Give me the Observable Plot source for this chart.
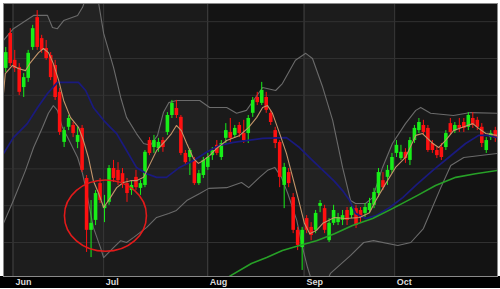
<!DOCTYPE html>
<html><head><meta charset="utf-8">
<script src="https://cdn.jsdelivr.net/npm/d3@7"></script>
<script src="https://cdn.jsdelivr.net/npm/@observablehq/plot@0.6"></script>
<style>html,body{margin:0;padding:0;background:#fff;}</style>
</head><body><div id="chart"></div>
<script>
// Daily OHLC (one value per trading day, index 0..109)
const open  = [24.73,25.68,24.95,24.75,24.21,24.46,25.30,26.11,25.54,25.27,25.08,24.81,24.08,22.72,23.13,23.18,22.72,23.10,21.74,20.33,20.60,21.60,20.92,21.09,22.01,21.96,21.87,21.60,21.41,21.77,21.47,21.55,22.77,22.58,22.55,22.77,22.99,23.45,23.64,23.40,22.42,22.31,22.23,21.60,21.82,22.04,22.36,22.64,22.31,22.83,22.99,22.91,23.18,22.96,22.96,23.51,23.94,23.78,23.94,23.51,23.04,22.72,21.55,21.90,21.22,20.33,19.86,20.65,20.41,20.33,20.98,20.92,20.05,20.52,20.54,20.60,20.87,20.73,20.92,20.87,20.79,20.87,21.01,21.33,21.68,21.77,21.96,22.42,22.28,22.45,22.23,22.77,23.04,23.18,23.10,22.69,22.50,22.58,22.58,23.23,23.04,23.18,23.26,23.13,23.37,23.32,23.13,22.50,22.85,23.04];
const high  = [25.30,25.81,25.22,24.86,24.59,25.22,25.90,26.30,25.63,25.49,25.16,24.95,24.19,23.13,23.45,23.26,23.13,23.18,21.82,21.14,21.41,21.74,21.28,22.09,22.23,22.17,22.01,21.74,21.68,21.96,21.68,22.50,22.85,22.91,22.83,22.85,23.53,23.86,23.86,23.45,22.50,22.55,22.31,21.96,22.31,22.42,22.58,22.77,22.77,23.23,23.37,23.18,23.26,23.32,23.45,23.94,24.08,24.35,24.08,23.59,23.13,22.77,22.15,22.01,21.33,20.41,20.41,20.73,20.54,20.87,21.14,21.01,20.65,21.01,20.79,20.87,20.95,21.06,21.01,20.95,21.06,21.20,21.47,22.01,21.90,22.09,22.42,22.77,22.64,22.55,22.85,23.18,23.37,23.32,23.18,22.77,22.58,22.69,23.04,23.37,23.26,23.37,23.37,23.53,23.53,23.40,23.23,22.85,23.04,23.13];
const low   = [24.62,24.78,24.62,23.99,23.94,24.35,25.22,25.22,25.14,24.95,24.40,23.86,22.91,22.58,23.04,22.85,22.55,21.90,19.73,19.59,20.46,21.06,20.54,21.01,21.63,21.55,21.47,21.09,21.28,21.41,21.28,21.49,22.36,22.42,22.45,22.45,22.91,23.37,23.37,22.36,22.09,21.82,21.55,21.55,21.74,21.96,22.23,22.36,22.23,22.69,22.72,22.83,22.85,22.69,22.69,23.40,23.72,23.72,23.51,23.18,22.55,21.49,20.92,21.49,20.24,19.78,19.24,20.24,20.05,20.24,20.81,20.24,20.00,20.46,20.46,20.46,20.46,20.65,20.38,20.54,20.68,20.79,20.92,21.22,21.41,21.55,21.87,22.31,22.23,22.15,22.09,22.69,22.96,22.91,22.45,22.42,22.28,22.23,22.50,22.91,22.96,22.99,22.99,23.04,23.10,23.04,22.58,22.42,22.77,22.72];
const close = [25.16,24.86,24.73,24.08,24.48,25.14,25.81,25.30,25.22,25.00,24.48,23.94,22.99,23.04,23.37,22.96,22.91,21.96,20.33,20.52,21.33,21.14,21.01,22.01,21.74,21.68,21.63,21.33,21.55,21.49,21.60,22.45,22.42,22.77,22.72,22.58,23.45,23.78,23.45,22.42,22.17,22.50,21.60,21.87,22.23,22.31,22.50,22.42,22.69,23.04,22.83,23.10,22.96,22.77,23.37,23.86,23.80,24.13,23.59,23.26,22.69,21.77,22.04,21.60,20.33,19.92,20.33,20.33,20.19,20.79,21.06,20.33,20.52,20.87,20.68,20.73,20.60,20.95,20.46,20.68,20.95,21.06,21.36,21.90,21.49,21.96,22.31,22.64,22.45,22.28,22.77,23.10,23.26,22.99,22.50,22.50,22.36,22.31,22.96,22.99,23.18,23.10,23.10,23.45,23.18,23.13,22.69,22.77,22.96,22.83];

// Month axis
const monthLabels = ["Jun","Jul","Aug","Sep","Oct"];
const monthStarts = [1.7, 21.8, 45.0, 66.5, 86.6];
const shadeEdges  = [-0.5, 1.7, 21.8, 45.0, 66.5, 86.6, 109.5];
const shadeColors = ["#161616","#1d1d1d","#1b1b1b","#141414","#1c1c1c","#131313"];
const gridPrices  = [20,21,22,23,24,25,26];

// Indicator lines: [day index, price]
const upperBand = [[-0.5,25.49],[1.7,25.81],[6.2,26.17],[9.3,26.17],[10.4,25.84],[11.5,25.81],[12.9,26.03],[16.0,26.17],[17.1,26.39],[18.9,26.98],[20.4,26.71],[21.8,25.68],[24.0,24.76],[25.6,23.94],[26.9,23.40],[29.1,22.96],[30.7,22.69],[32.2,22.64],[33.8,22.91],[35.1,23.53],[36.3,23.80],[38.0,23.86],[43.2,23.86],[45.4,23.67],[49.2,23.67],[51.4,23.51],[53.6,23.59],[57.2,24.21],[60.1,24.13],[61.6,24.32],[64.5,24.95],[66.8,25.14],[68.3,25.00],[70.6,24.21],[72.8,23.32],[75.0,22.04],[76.8,21.14],[77.9,21.06],[80.1,21.06],[81.7,21.22],[83.9,22.04],[86.1,22.69],[89.0,23.23],[91.3,23.59],[92.4,23.67],[94.6,23.51],[99.7,23.45],[103.5,23.53],[109.5,23.51]];
const lowerBand = [[-0.5,20.52],[1.7,21.14],[4.4,21.96],[6.2,22.58],[8.2,23.13],[9.5,23.51],[10.6,23.72],[11.5,23.59],[12.6,23.13],[13.8,22.85],[16.0,22.31],[17.1,21.87],[17.8,21.49],[19.5,20.41],[21.1,19.86],[21.8,19.59],[24.0,19.86],[25.6,20.05],[26.9,20.00],[28.5,20.14],[31.4,20.41],[33.6,20.68],[36.3,20.79],[38.0,20.87],[40.3,21.14],[43.2,21.33],[45.2,21.47],[49.2,21.49],[52.5,21.63],[54.1,21.49],[56.5,21.77],[58.3,21.96],[59.9,22.04],[61.4,21.77],[62.8,21.33],[64.8,20.60],[66.1,19.86],[67.2,19.32],[68.1,18.97],[70.1,18.56],[72.3,19.16],[76.8,19.65],[79.7,20.00],[81.9,20.05],[87.3,19.92],[90.2,20.00],[93.0,20.38],[96.8,21.47],[99.1,22.09],[102.0,22.31],[109.5,22.42]];
const blueAvg = [[-0.5,22.42],[1.7,22.85],[4.8,23.23],[7.1,23.67],[9.3,24.05],[11.5,24.35],[16.2,24.35],[17.8,24.13],[19.5,23.67],[21.8,23.32],[23.3,23.13],[24.7,22.96],[26.9,22.50],[29.1,22.04],[31.4,21.87],[33.6,21.77],[35.8,21.77],[38.7,22.04],[41.8,22.23],[44.7,22.45],[47.6,22.64],[50.7,22.72],[53.6,22.77],[57.2,22.83],[62.5,22.85],[65.4,22.58],[68.3,22.23],[71.4,21.87],[73.2,21.66],[75.0,21.41],[76.6,21.14],[77.9,20.79],[80.1,20.65],[82.4,20.73],[85.5,20.95],[88.4,21.22],[91.3,21.55],[95.1,21.96],[98.6,22.31],[102.4,22.69],[105.3,22.91],[107.3,22.91],[109.5,22.85]];
const tanAvg = [[-0.5,24.05],[-0.1,24.59],[1.5,24.81],[2.8,24.73],[4.4,24.67],[5.5,24.89],[7.3,25.16],[8.4,25.27],[9.5,25.16],[10.6,24.86],[11.8,24.40],[12.9,23.86],[14.4,23.40],[16.2,23.13],[17.3,22.77],[18.4,22.31],[19.5,21.68],[20.7,21.33],[21.8,20.95],[23.3,21.22],[24.7,21.49],[26.2,21.63],[27.8,21.68],[29.1,21.68],[30.7,21.77],[32.2,22.15],[33.6,22.50],[35.6,22.77],[36.9,22.96],[38.0,23.18],[39.1,23.04],[40.3,22.69],[41.8,22.28],[42.9,22.15],[44.0,22.23],[45.4,22.36],[46.9,22.55],[49.2,22.77],[52.1,22.91],[54.1,23.13],[55.9,23.40],[57.2,23.67],[58.3,23.72],[59.4,23.51],[61.0,22.96],[62.5,22.42],[63.9,21.77],[65.4,21.06],[66.5,20.52],[67.7,20.24],[69.2,20.33],[70.6,20.52],[73.2,20.68],[75.7,20.65],[78.8,20.68],[81.0,20.81],[82.4,21.14],[84.6,21.60],[86.8,22.04],[89.0,22.31],[91.3,22.91],[92.8,22.96],[95.1,22.69],[96.4,22.58],[97.9,22.77],[99.7,23.04],[101.7,23.13],[104.0,23.23],[105.3,23.10],[106.9,22.96],[109.5,22.91]];
const greenAvg = [[49.8,19.08],[54.7,19.43],[58.1,19.59],[61.6,19.78],[65.4,19.92],[69.2,20.05],[73.2,20.24],[77.2,20.46],[81.7,20.65],[86.1,20.92],[91.7,21.28],[95.7,21.55],[100.2,21.77],[104.6,21.87],[109.5,21.96]];

// Hand-drawn annotation circle (centre in day index / price)
const circleCenter = [{i:22.2, p:20.73}];

const candles = open.map((o,i)=>({i, o, h:high[i], l:low[i], c:close[i], up: close[i] >= o}));
const shades = shadeColors.map((f,k)=>({x1:shadeEdges[k], x2:shadeEdges[k+1], y1:19.076, y2:26.494, f}));
const bandPoly = upperBand.concat(lowerBand.slice().reverse());
const UP = "#18ee18", DOWN = "#ff1010";

const chart = Plot.plot({
  width: 500, height: 289,
  marginTop: 3, marginLeft: 3, marginRight: 3, marginBottom: 13,
  x: {domain: [-0.5, 109.5]},
  y: {domain: [19.076, 26.494], axis: null},
  color: {type: "identity"},
  style: {background: "#fff", fontFamily: "Liberation Sans, Arial, sans-serif"},
  marks: [
    Plot.rect(shades, {x1: "x1", x2: "x2", y1: "y1", y2: "y2", fill: "f"}),
    Plot.line(bandPoly, {x: d=>d[0], y: d=>d[1], fill: "rgba(255,255,255,0.028)", stroke: "none", clip: true}),
    Plot.ruleY(gridPrices, {stroke: "#323232", strokeWidth: 1}),
    Plot.ruleX(monthStarts, {stroke: "#343434", strokeWidth: 1}),
    Plot.line(upperBand, {x: d=>d[0], y: d=>d[1], stroke: "#6b6b6b", strokeWidth: 1.1, clip: true}),
    Plot.line(lowerBand, {x: d=>d[0], y: d=>d[1], stroke: "#6b6b6b", strokeWidth: 1.1, clip: true}),
    Plot.ruleX(candles, {x: "i", y1: "l", y2: "h", stroke: d=>d.up?UP:DOWN, strokeWidth: 1}),
    Plot.ruleX(candles, {x: "i", y1: "o", y2: "c", stroke: d=>d.up?UP:DOWN, strokeWidth: 3.6}),
    Plot.line(blueAvg, {x: d=>d[0], y: d=>d[1], stroke: "#1a1a7e", strokeWidth: 1.7, clip: true}),
    Plot.line(greenAvg, {x: d=>d[0], y: d=>d[1], stroke: "#27a027", strokeWidth: 1.6, clip: true}),
    Plot.line(tanAvg, {x: d=>d[0], y: d=>d[1], stroke: "#c4956a", strokeWidth: 1.1, clip: true}),
    Plot.dot(circleCenter, {x: "i", y: "p", r: 41, stroke: "#e21a1a", strokeWidth: 1.6, fill: "none"}),
    Plot.frame({stroke: "#8a8a8a", strokeWidth: 1}),
    Plot.axisX(monthStarts, {tickSize: 0, tickPadding: 2, textAnchor: "start", dx: 2,
      tickFormat: d => monthLabels[monthStarts.indexOf(d)], fill: "#dcdcdc",
      fontSize: 9, fontWeight: "bold", label: null})
  ]
});

const svg = d3.select(chart);
svg.insert("rect", ":first-child").attr("x", 0).attr("y", 276).attr("width", 500).attr("height", 12).attr("fill", "#000");
svg.selectAll("g[aria-label='dot'] circle").each(function(){
  const t = this.getAttribute("transform");
  this.setAttribute("vector-effect", "non-scaling-stroke");
  if (t) this.setAttribute("transform", t + " scale(1,0.87)");
  else {
    const cx = +this.getAttribute("cx"), cy = +this.getAttribute("cy");
    this.setAttribute("transform", `translate(${cx},${cy}) scale(1,0.87) translate(${-cx},${-cy})`);
  }
});
document.getElementById("chart").appendChild(chart);
</script>
</body></html>
